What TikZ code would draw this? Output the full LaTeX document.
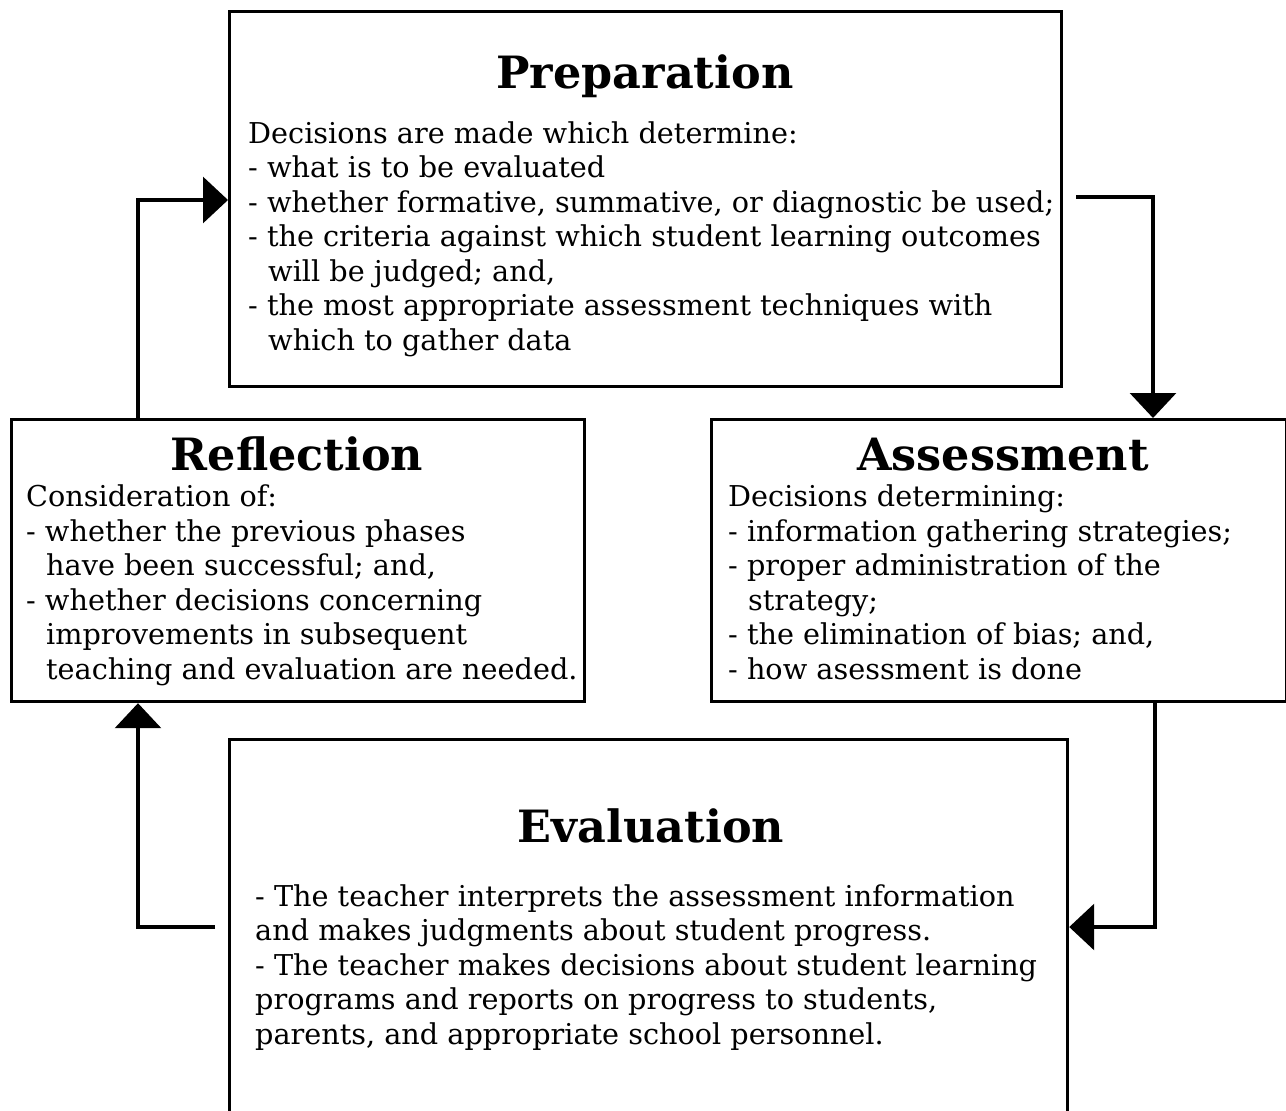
\documentclass[tikz,border=0pt]{standalone}
\usepackage{fontspec}
\setmainfont{DejaVu Serif}
\usetikzlibrary{arrows.meta}
\begin{document}
\begin{tikzpicture}[x=1pt,y=-1pt,
  box/.style={draw, line width=3.2pt, rectangle, anchor=north west, inner sep=0pt},
  title/.style={font=\fontsize{44.5}{50}\selectfont\bfseries, inner sep=0pt, anchor=base},
  body/.style={font=\fontsize{28.7}{34.5}\selectfont, align=left, inner sep=0pt, anchor=base west},
  conn/.style={line width=3.2pt, -{Triangle[length=25pt,width=46pt]}}]
\useasboundingbox (0,0) rectangle (1286,1111);
\clip (0,0) rectangle (1286,1111);

% the four phase boxes
\node[box, minimum width=832, minimum height=375] (prep) at (228,10) {};
\node[box, minimum width=573, minimum height=282] (refl) at (10,418) {};
\node[box, minimum width=575, minimum height=282] (asse) at (710,418) {};
\node[box, minimum width=838, minimum height=420] (eval) at (228,738) {};

% titles
\node[title] (tprep) at (645,88) {Preparation};
\node[title] (trefl) at (297,470) {Reflection};
\node[title] (tasse) at (1003,470) {Assessment};
\node[title] (teval) at (651,842) {Evaluation};

% texts (each node is placed by the baseline of its last line)
\def\hang{\hspace*{20pt}}
\node[body] (bprep) at (248,350) {Decisions are made which determine:\\
- what is to be evaluated\\
- whether formative, summative, or diagnostic be used;\\
- the criteria against which student learning outcomes\\
\hang will be judged; and,\\
- the most appropriate assessment techniques with\\
\hang which to gather data};

\node[body] (brefl) at (26,679) {Consideration of:\\
- whether the previous phases\\
\hang have been successful; and,\\
- whether decisions concerning\\
\hang improvements in subsequent\\
\hang teaching and evaluation are needed.};

\node[body] (basse) at (728,679) {Decisions determining:\\
- information gathering strategies;\\
- proper administration of the\\
\hang strategy;\\
- the elimination of bias; and,\\
- how asessment is done};

\node[body] (beval) at (255,1044) {- The teacher interprets the assessment information\\
and makes judgments about student progress.\\
- The teacher makes decisions about student learning\\
programs and reports on progress to students,\\
parents, and appropriate school personnel.};

% connector bends
\coordinate (kl) at (138,200);
\coordinate (kr) at (1153,197);
\coordinate (kbr) at (1155,927);
\coordinate (kbl) at (138,927);

% connectors of the cycle
\draw[conn] (refl.north -| kl) -- (kl) -- (prep.west |- kl);
\draw[conn, shorten <=13pt] (prep.east |- kr) -- (kr) -- (asse.north -| kr);
\draw[conn] (asse.south -| kbr) -- (kbr) -- (eval.east |- kbr);
\draw[conn, shorten <=13pt] (eval.west |- kbl) -- (kbl) -- (refl.south -| kbl);
\end{tikzpicture}
\end{document}
